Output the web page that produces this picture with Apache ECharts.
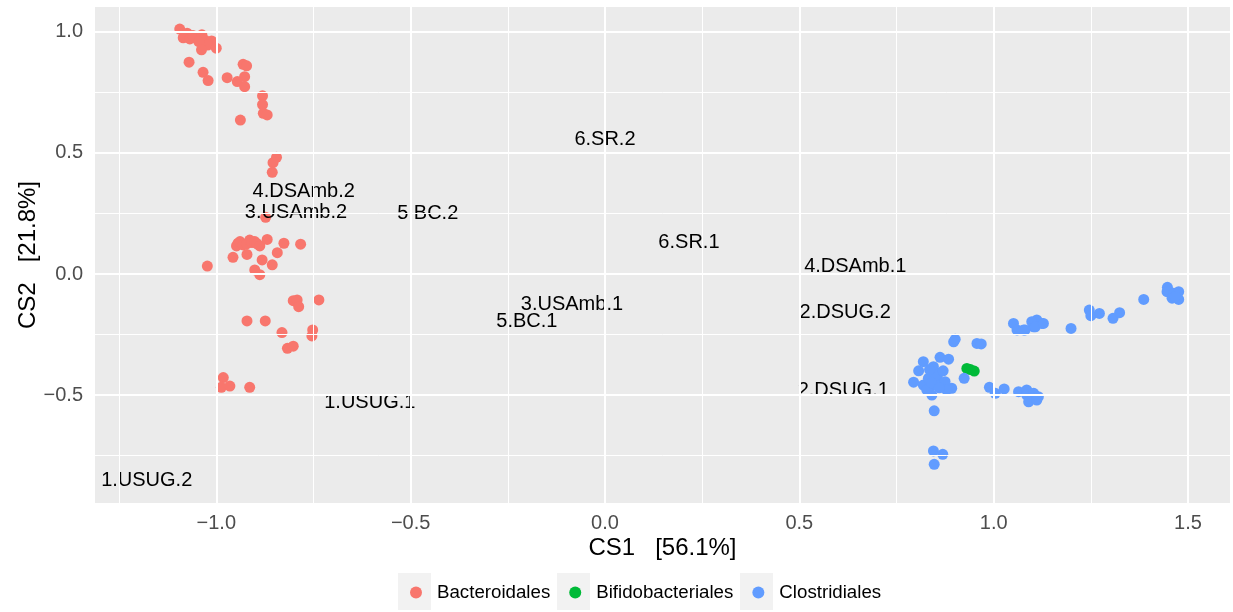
<!DOCTYPE html>
<html>
<head>
<meta charset="utf-8">
<script src="https://cdn.jsdelivr.net/npm/echarts@6/dist/echarts.min.js"></script>
<style>html,body{margin:0;padding:0;background:#fff}#c{width:1233px;height:612px}</style>
</head>
<body>
<div id="c"></div>
<script>
// ---- data ----
const bactX = [-1.094,-1.075,-1.085,-1.068,-1.051,-1.060,-1.037,-1.030,-1.012,-1.022,-1.045,-1.038,-1.000,-1.070,-1.034,-1.021,-0.972,-0.931,-0.922,-0.927,-0.946,-0.927,-0.881,-0.881,-0.879,-0.869,-0.938,-0.845,-0.854,-0.856,-0.873,-0.944,-0.948,-0.939,-0.931,-0.922,-0.914,-0.908,-0.901,-0.895,-0.888,-0.869,-0.826,-0.783,-0.957,-0.921,-0.843,-0.882,-0.856,-1.023,-0.901,-0.888,-0.802,-0.792,-0.788,-0.736,-0.921,-0.874,-0.831,-0.752,-0.754,-0.817,-0.802,-0.982,-0.987,-0.965,-0.914];
const bactY = [1.012,0.995,0.976,0.971,0.974,0.985,0.988,0.967,0.963,0.946,0.960,0.926,0.933,0.875,0.833,0.799,0.811,0.866,0.860,0.815,0.795,0.774,0.736,0.700,0.664,0.657,0.636,0.482,0.460,0.420,0.234,0.127,0.116,0.134,0.120,0.124,0.140,0.130,0.134,0.125,0.116,0.143,0.127,0.123,0.069,0.081,0.088,0.058,0.038,0.033,0.017,-0.003,-0.110,-0.107,-0.135,-0.107,-0.194,-0.194,-0.242,-0.231,-0.256,-0.307,-0.298,-0.428,-0.468,-0.463,-0.468];
const bifiX = [0.931,0.940,0.950];
const bifiY = [-0.390,-0.395,-0.401];
const closX = [0.901,0.897,0.957,0.968,0.819,0.807,0.862,0.884,0.845,0.858,0.794,0.819,0.837,0.867,0.892,0.841,0.832,0.854,0.875,0.828,0.879,0.924,0.850,0.870,0.840,0.860,0.835,0.847,0.845,0.869,0.847,0.989,1.004,1.027,1.064,1.085,1.085,1.103,1.098,1.115,1.090,1.111,1.051,1.060,1.081,1.103,1.124,1.111,1.077,1.098,1.107,1.128,1.199,1.246,1.250,1.272,1.307,1.324,1.386,1.447,1.446,1.463,1.476,1.476,1.459,1.467];
const closY = [-0.270,-0.280,-0.287,-0.289,-0.362,-0.400,-0.344,-0.352,-0.383,-0.410,-0.447,-0.459,-0.466,-0.459,-0.472,-0.500,-0.431,-0.438,-0.445,-0.479,-0.479,-0.431,-0.420,-0.400,-0.450,-0.470,-0.395,-0.565,-0.731,-0.745,-0.786,-0.468,-0.493,-0.475,-0.486,-0.479,-0.500,-0.493,-0.510,-0.507,-0.528,-0.521,-0.204,-0.231,-0.231,-0.218,-0.204,-0.190,-0.231,-0.197,-0.218,-0.204,-0.225,-0.149,-0.172,-0.163,-0.183,-0.160,-0.105,-0.055,-0.073,-0.080,-0.073,-0.105,-0.100,-0.094];
const labelNames = ['1.USUG.2','1.USUG.1','3.USAmb.2','4.DSAmb.2','5.BC.2','6.SR.2','6.SR.1','3.USAmb.1','5.BC.1','4.DSAmb.1','2.DSUG.2','2.DSUG.1'];
const labelX = [-1.179,-0.605,-0.795,-0.775,-0.456,0.000,0.216,-0.085,-0.201,0.644,0.618,0.613];
const labelY = [-0.851,-0.529,0.256,0.339,0.252,0.554,0.132,-0.124,-0.198,0.033,-0.157,-0.483];
const seriesNames = ['Bacteroidales','Bifidobacteriales','Clostridiales'];
const seriesColors = ['#F8766D','#00BA38','#619CFF'];
const xTicks = [-1.0,-0.5,0.0,0.5,1.0,1.5];
const yTicks = [-0.5,0.0,0.5,1.0];
const xMinor = [-1.25,-0.75,-0.25,0.25,0.75,1.25];
const yMinor = [-0.75,-0.25,0.25,0.75];
const xRange = [-1.312,1.608];
const yRange = [-0.946,1.103];
const xTitle = 'CS1   [56.1%]';
const yTitle = 'CS2   [21.8%]';

// ---- build ----
const zip = (xs, ys) => xs.map((x, i) => [x, ys[i]]);
const fmt = v => (v < 0 ? '\u2212' : '') + Math.abs(v).toFixed(1);
const FONT = 'Liberation Sans, Arial, Helvetica, sans-serif';

const gridLines = [];
xMinor.forEach(v => gridLines.push({xAxis: v, lineStyle: {width: 1}}));
yMinor.forEach(v => gridLines.push({yAxis: v, lineStyle: {width: 1}}));
xTicks.forEach(v => gridLines.push({xAxis: v, lineStyle: {width: 2}}));
yTicks.forEach(v => gridLines.push({yAxis: v, lineStyle: {width: 2}}));

const pts = [zip(bactX, bactY), zip(bifiX, bifiY), zip(closX, closY)];

const option = {
  animation: false,
  textStyle: {fontFamily: FONT},
  grid: {left: 95, right: 3, top: 7, bottom: 109, show: true, backgroundColor: '#EBEBEB', borderWidth: 0, containLabel: false},
  xAxis: {
    type: 'value', min: xRange[0], max: xRange[1],
    axisLine: {show: false},
    axisTick: {show: true, customValues: xTicks, length: 5, lineStyle: {color: '#333333', width: 1.5}},
    axisLabel: {customValues: xTicks, formatter: fmt, color: '#4D4D4D', fontSize: 20, margin: 10, fontFamily: FONT},
    splitLine: {show: false},
    name: xTitle, nameLocation: 'middle', nameGap: 33, nameMoveOverlap: false,
    nameTextStyle: {color: '#000', fontSize: 24, fontFamily: FONT}
  },
  yAxis: {
    type: 'value', min: yRange[0], max: yRange[1],
    axisLine: {show: false},
    axisTick: {show: true, customValues: yTicks, length: 5, lineStyle: {color: '#333333', width: 1.5}},
    axisLabel: {customValues: yTicks, formatter: fmt, color: '#4D4D4D', fontSize: 20, margin: 12, fontFamily: FONT},
    splitLine: {show: false},
    name: yTitle, nameLocation: 'middle', nameGap: 55, nameRotate: 90, nameMoveOverlap: false,
    nameTextStyle: {color: '#000', fontSize: 24, fontFamily: FONT}
  },
  legend: {
    data: seriesNames, left: 405, top: 578, icon: 'circle', itemWidth: 12, itemHeight: 12, itemGap: 19,
    textStyle: {fontSize: 18.7, color: '#000', fontFamily: FONT, padding: [0, 0, 0, 10]},
    selectedMode: false
  },
  graphic: [
    {type: 'rect', left: 398, top: 573, shape: {width: 33, height: 37}, style: {fill: '#F2F2F2'}, z: -1},
    {type: 'rect', left: 557, top: 573, shape: {width: 33, height: 37}, style: {fill: '#F2F2F2'}, z: -1},
    {type: 'rect', left: 740, top: 573, shape: {width: 33, height: 37}, style: {fill: '#F2F2F2'}, z: -1}
  ],
  series: [
    {
      name: 'grid', type: 'scatter', data: [], z: 1, silent: true,
      markLine: {silent: true, symbol: 'none', label: {show: false}, animation: false,
        lineStyle: {color: '#FFFFFF', type: 'solid'}, emphasis: {disabled: true}, data: gridLines}
    },
    ...seriesNames.map((n, i) => ({
      name: n, type: 'scatter', data: pts[i], symbolSize: 11, z: 3,
      itemStyle: {color: seriesColors[i], opacity: 1}
    })),
    {
      name: 'labels', type: 'custom', z: 4, silent: true,
      data: labelNames.map((n, i) => [labelX[i], labelY[i], i]),
      encode: {x: 0, y: 1},
      renderItem: (params, api) => {
        const p = api.coord([api.value(0), api.value(1)]);
        return {
          type: 'text', x: p[0], y: p[1],
          style: {text: labelNames[api.value(2)], fill: '#000000', font: '20px ' + FONT,
            align: 'center', verticalAlign: 'middle', lineWidth: 0, stroke: null}
        };
      }
    }
  ]
};
echarts.init(document.getElementById('c'), null, {renderer: 'canvas'}).setOption(option);
</script>
</body>
</html>
